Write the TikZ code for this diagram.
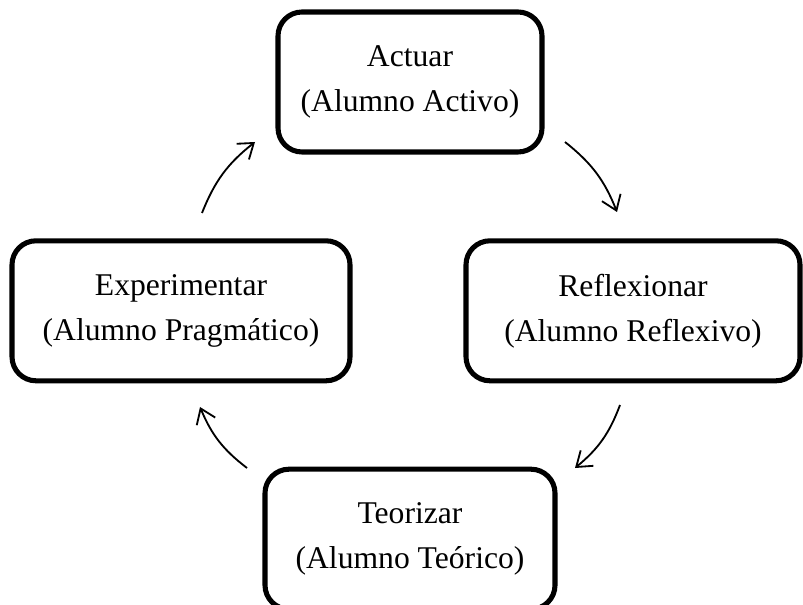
\documentclass[tikz,border=0pt]{standalone}
\usepackage{fontspec}
\setmainfont{Liberation Serif}
\usetikzlibrary{arrows.meta}

\begin{document}
\begin{tikzpicture}[
    etapa/.style={draw, line width=3.6pt, rounded corners=0.6cm, align=center,
        font=\fontsize{22.5}{32}\selectfont, minimum height=3.5cm},
    flecha/.style={-{Straight Barb[length=0.35cm, width=0.5cm]}, line width=1.3pt}
]
    \useasboundingbox (0,0) rectangle (20.075,15.1);
    % Etapas
    \node[etapa, minimum width=6.6cm] (actuar) at (10.25,13.05) {Actuar\\(Alumno Activo)};
    \node[etapa, minimum width=8.35cm] (reflexionar) at (15.825,7.33) {Reflexionar\\(Alumno Reflexivo)};
    \node[etapa, minimum width=7.25cm] (teorizar) at (10.25,1.62) {Teorizar\\(Alumno Teórico)};
    \node[etapa, minimum width=8.45cm] (experimentar) at (4.525,7.33) {Experimentar\\(Alumno Pragmático)};
    % Extremos de las flechas
    \coordinate (a1) at (14.125,11.55);
    \coordinate (b1) at (15.425,9.8);
    \coordinate (a2) at (15.5,4.975);
    \coordinate (b2) at (14.375,3.4);
    \coordinate (a3) at (6.175,3.4);
    \coordinate (b3) at (5.0,4.925);
    \coordinate (a4) at (5.05,9.775);
    \coordinate (b4) at (6.375,11.55);
    % Ciclo
    \draw[flecha] (a1) to[bend left=15] (b1);
    \draw[flecha] (a2) to[bend left=15] (b2);
    \draw[flecha] (a3) to[bend left=15] (b3);
    \draw[flecha] (a4) to[bend left=15] (b4);
\end{tikzpicture}
\end{document}
